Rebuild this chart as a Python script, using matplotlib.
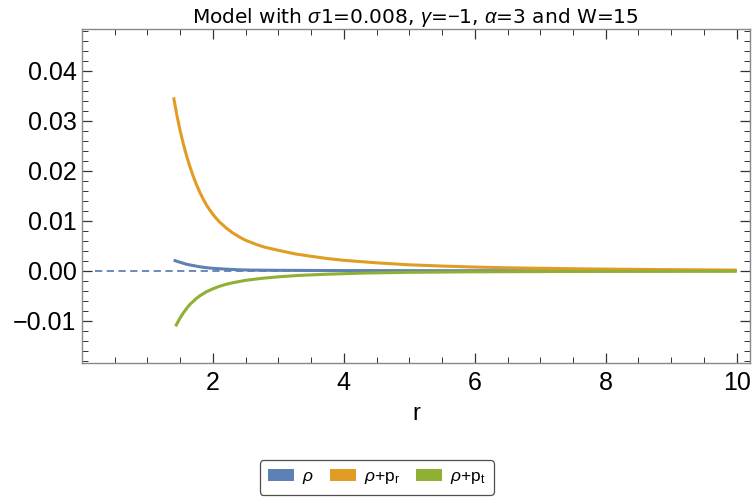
import matplotlib
matplotlib.use("Agg")
import matplotlib.pyplot as plt
from matplotlib.patches import Patch
from matplotlib.ticker import MultipleLocator

plt.rcParams['font.family'] = ['Liberation Sans', 'DejaVu Sans']
plt.rcParams['mathtext.fontset'] = 'custom'
plt.rcParams['mathtext.rm'] = 'Liberation Sans'
plt.rcParams['mathtext.it'] = 'Liberation Sans:italic'

# values
r_rho = [1.40, 1.45, 1.5, 1.6, 1.7, 1.8, 1.9, 2.0, 2.2, 2.4, 2.6, 3.0, 3.5, 4.0,
         5.0, 6.0, 8.0, 10.0]
rho = [0.00214, 0.0019, 0.0017, 0.0013, 0.00105, 0.0008, 0.00063, 0.0005, 0.00033,
       0.0002, 0.00014, 0.0001, 0.00007, 0.00005, 0.00003, 0.00002, 0.00001, 0.00001]

r_pr = [1.40, 1.45, 1.50, 1.55, 1.60, 1.65, 1.70, 1.75, 1.80, 1.85, 1.90, 1.95,
        2.0, 2.05, 2.1, 2.2, 2.3, 2.4, 2.5, 2.6, 2.7, 2.8, 3.0, 3.25, 3.5, 3.75,
        4.0, 4.5, 5.0, 5.5, 6.0, 6.5, 7.0, 7.5, 8.0, 9.0, 10.0]
rho_pr = [0.0347, 0.0311, 0.0280, 0.0253, 0.0229, 0.0208, 0.0189, 0.0172, 0.0157,
          0.0144, 0.0132, 0.0122, 0.0113, 0.0105, 0.0098, 0.0086, 0.0076, 0.0068,
          0.0061, 0.0056, 0.0051, 0.0047, 0.0041, 0.0034, 0.0029, 0.00245, 0.0021,
          0.0016, 0.0012, 0.00095, 0.00075, 0.0006, 0.0005, 0.00041, 0.00034,
          0.00023, 0.00014]

r_pt = [1.43, 1.47, 1.5, 1.55, 1.6, 1.65, 1.7, 1.75, 1.8, 1.9, 2.0, 2.1, 2.2, 2.3,
        2.5, 2.75, 3.0, 3.3, 3.7, 4.3, 5.0, 6.0, 7.0, 8.0, 9.0, 10.0]
rho_pt = [-0.0111, -0.0101, -0.0094, -0.0084, -0.0075, -0.0067, -0.0061, -0.0055,
          -0.0050, -0.0042, -0.0036, -0.0031, -0.0027, -0.0024, -0.0019, -0.0015,
          -0.0012, -0.00093, -0.0007, -0.00045, -0.0003, -0.0002, -0.00015,
          -0.00012, -0.0001, -0.00008]

zero_r = [0.2, 10.0]
zero_y = [0.0, 0.0]

blue = '#5E81B5'
orange = '#E19C24'
green = '#8FB032'

fig = plt.figure(figsize=(7.52, 4.97), dpi=100)
ax = fig.add_axes([0.109, 0.270, 0.888, 0.671])

ax.plot(zero_r, zero_y, color=blue, lw=1.3, ls=(0, (4, 2.5)))
ax.plot(r_rho, rho, color=blue, lw=2.2, solid_capstyle='butt', solid_joinstyle='round')
ax.plot(r_pr, rho_pr, color=orange, lw=2.2, solid_capstyle='butt', solid_joinstyle='round')
ax.plot(r_pt, rho_pt, color=green, lw=2.2, solid_capstyle='butt', solid_joinstyle='round')

ax.set_xlim(0, 10.2)
ax.set_ylim(-0.0184, 0.0483)
ax.xaxis.set_minor_locator(MultipleLocator(0.5))
ax.yaxis.set_minor_locator(MultipleLocator(0.002))
ax.set_xticks([2, 4, 6, 8, 10])
ax.set_xticklabels(['2', '4', '6', '8', '10'])
ax.set_yticks([-0.01, 0.0, 0.01, 0.02, 0.03, 0.04])
ax.set_yticklabels(['\u22120.01', '0.00', '0.01', '0.02', '0.03', '0.04'])

ax.tick_params(which='both', direction='in', top=True, right=True,
               labelsize=18, color='#333333')
ax.tick_params(which='major', length=7, width=0.9)
ax.tick_params(which='minor', length=4, width=0.7)
ax.tick_params(axis='y', pad=4)
ax.tick_params(axis='x', pad=6)
for s in ax.spines.values():
    s.set_color('#888888')
    s.set_linewidth(1.0)

ax.set_xlabel('r', fontsize=17, labelpad=6)
ax.set_title(r'Model with $\sigma$1=0.008, $\gamma$=$-$1, $\alpha$=3 and W=15',
             fontsize=14.5, pad=4, family='DejaVu Sans')

handles = [Patch(facecolor=blue, edgecolor='none'),
           Patch(facecolor=orange, edgecolor='none'),
           Patch(facecolor=green, edgecolor='none')]
labels = [r'$\rho$', r'$\rho$+p$_{\rm r}$', r'$\rho$+p$_{\rm t}$']
leg = fig.legend(handles, labels, loc='center', bbox_to_anchor=(0.501, 0.039),
                 ncol=3, fontsize=12.5, frameon=True, fancybox=True,
                 handlelength=1.5, handleheight=0.63, columnspacing=0.9,
                 handletextpad=0.46, borderpad=0.5)
leg.get_frame().set_edgecolor('#222222')
leg.get_frame().set_linewidth(0.9)

fig.savefig('out.png', dpi=100)
